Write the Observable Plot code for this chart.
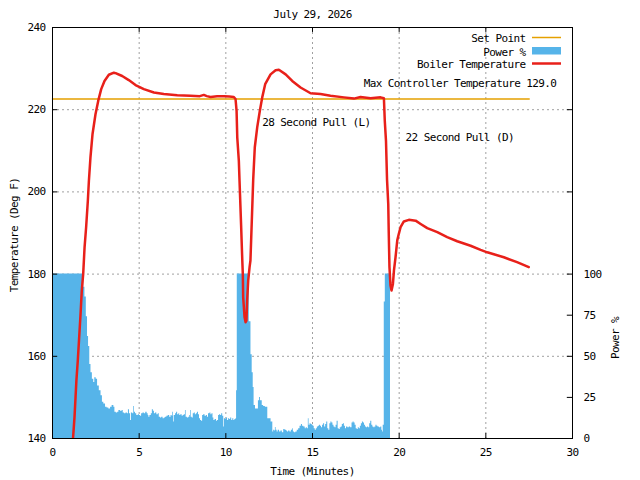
<!DOCTYPE html>
<html><head><meta charset="utf-8">
<script src="https://cdn.jsdelivr.net/npm/d3@7"></script>
<script src="https://cdn.jsdelivr.net/npm/@observablehq/plot@0.6"></script>
<style>
body{margin:0;background:#fff}
svg text{letter-spacing:-0.6px}
</style>
</head><body><div id="chart"></div>
<script>
// ---- data ----
const titleText = "July 29, 2026";
const xLabel = "Time (Minutes)";
const yLabel = "Temperature (Deg F)";
const y2Label = "Power %";
const legendLabels = ["Set Point", "Power %", "Boiler Temperature"];
const notes = ["Max Controller Temperature 129.0", "28 Second Pull (L)", "22 Second Pull (D)"];
const noteX = [17.95, 12.1, 20.37];
const noteY = [226.3, 216.8, 213.2];

const xTicks = [0, 5, 10, 15, 20, 25, 30];
const yTicks = [140, 160, 180, 200, 220, 240];
const powerTicks = [0, 25, 50, 75, 100];
const xGrid = [5, 10, 15, 20, 25];
const yGrid = [160, 180, 200, 220];

const tempTime = [1.17,1.19,1.27,1.33,1.38,1.46,1.54,1.62,1.69,1.77,1.85,1.94,2.04,2.10,2.19,2.31,2.48,2.64,2.81,3.00,3.25,3.54,3.64,4.02,4.40,4.79,5.27,5.85,6.42,7.20,7.96,8.50,8.73,8.90,9.12,9.50,9.89,10.20,10.46,10.56,10.62,10.66,10.75,10.79,10.88,10.95,10.98,11.00,11.08,11.14,11.19,11.23,11.29,11.37,11.42,11.58,11.67,11.81,11.96,12.10,12.27,12.58,12.87,13.06,13.45,13.83,14.31,14.89,15.46,16.04,16.81,17.39,17.77,18.35,18.93,19.12,19.17,19.24,19.30,19.37,19.40,19.44,19.50,19.56,19.64,19.70,19.79,19.89,19.98,20.08,20.27,20.56,20.95,21.24,21.62,22.20,22.77,23.35,24.12,24.70,25.08,26.04,26.80,27.48];
const tempValue = [139.5,140.4,145.2,150.1,154.2,159,164.7,170.4,176,180,186.5,191.4,197.9,202.7,208.4,214.1,218.9,222.2,225,227,228.5,229,228.9,228.2,227.2,226.0,225.0,224.2,223.8,223.5,223.4,223.3,223.6,223.3,223.1,223.3,223.3,223.2,223.1,222.6,219.7,213.2,207.6,202.7,192,183.3,180,174.4,169.5,168.3,168.7,173.6,178.4,181.7,183.3,203.1,210.8,215.7,219.7,223,226.2,228.6,229.6,229.7,228.6,227,225.4,224,223.8,223.4,223,222.7,223.1,222.8,223,222.8,217.3,212.4,203,197.1,189.8,181.7,177.2,176,177.6,180.9,184.1,188.2,189.8,191.4,192.8,193.2,193,192.2,191.2,190.2,189,188,186.9,185.9,185.3,184.1,182.9,181.7];

const setPointTime = [0, 27.5];
const setPointValue = [222.6, 222.6];

const powerTime = [0,1.80,1.87,1.95,2.02,2.08,2.15,2.22,2.30,2.38,2.44,2.52,2.60,2.70,2.80,2.88,2.96,3.06,3.15,3.25,3.35,3.44,3.54,3.60,3.68,3.76,3.83,3.92,4.02,4.08,4.16,4.24,4.32,4.38,4.44,4.50,4.55,4.63,4.69,4.73,4.79,4.86,4.95,5.02,5.08,5.14,5.22,5.30,5.38,5.46,5.52,5.56,5.62,5.70,5.76,5.82,5.88,5.94,6.02,6.10,6.16,6.23,6.30,6.38,6.45,6.52,6.60,6.68,6.76,6.84,6.90,6.94,6.98,7.02,7.10,7.16,7.22,7.29,7.34,7.40,7.48,7.54,7.60,7.67,7.71,7.78,7.86,7.92,7.96,8.00,8.06,8.12,8.18,8.24,8.30,8.36,8.42,8.48,8.54,8.60,8.66,8.72,8.80,8.88,8.94,9.00,9.08,9.14,9.20,9.26,9.31,9.38,9.46,9.52,9.58,9.64,9.70,9.76,9.82,9.88,9.92,9.98,10.04,10.10,10.16,10.22,10.28,10.34,10.40,10.46,10.52,10.58,10.62,10.66,11.35,11.45,11.52,11.58,11.63,11.71,11.80,11.88,11.95,12.00,12.10,12.18,12.28,12.42,12.61,12.71,12.76,12.82,12.86,12.90,12.96,13.02,13.10,13.18,13.26,13.34,13.42,13.50,13.56,13.62,13.70,13.78,13.86,13.90,13.96,14.04,14.12,14.20,14.28,14.36,14.42,14.50,14.58,14.64,14.70,14.76,14.80,14.86,14.92,14.98,15.04,15.10,15.16,15.22,15.28,15.34,15.40,15.46,15.52,15.58,15.64,15.70,15.76,15.82,15.88,15.94,16.00,16.06,16.12,16.18,16.24,16.30,16.36,16.42,16.48,16.54,16.60,16.66,16.72,16.78,16.84,16.90,16.96,17.04,17.12,17.20,17.28,17.34,17.40,17.46,17.52,17.58,17.64,17.70,17.76,17.82,17.88,17.94,18.00,18.06,18.12,18.18,18.24,18.30,18.36,18.42,18.48,18.54,18.60,18.66,18.72,18.78,18.86,18.94,19.00,19.04,19.08,19.14,19.20,19.50];
const powerValue = [100,92,86,74,62,56,45,40,36,34,37,36,32,29,26,22,21,19,18.5,18,19,20,19,16,15.5,16,17,16.5,17,15.5,15,15.5,15,17.5,15,11,15.5,15,19.5,16,15,14,14.5,14,13.5,15,15.5,15,16,15,14,13,14,15,17.5,16.5,15,15.5,14.5,15,13,12.5,13,12,12.5,13,13.5,14,13,14,13.5,16,10,14,15,16,14.5,15,14,14.5,13.5,14,14.5,17,13,12.5,13,14,17,13,12.5,15,15.5,14.5,15,16,14.5,12,11,10.5,14,14.5,13.5,14,13,15,15.5,14.5,15,12.5,11,11.5,10.5,11,14,14.5,14,15,13.5,7,12,11.5,12.5,11,12,11.5,12.5,11,12,11,11.5,12,29,100,71,51,40,31,20,18,18,23,25,23,20,19.5,19,12,10,4,5,4.5,6.7,5,4,5,4,4.5,3.5,5.5,5,4.5,4,4.5,4,5,6,4,3.5,4,5,6,7.5,8.5,7.5,7,6,6.5,6,12,8,9,8.5,8,7.5,6,5,6,7,7.5,8,7.5,6.5,8,9,7,8.5,10,6,5,9,10,9.5,8,7,6.5,8,10.5,6,5.5,6.5,7,8.5,9,7.5,6,7,6.5,7,6.5,9.5,10,9.5,8,6,5.5,6.5,6,7.5,9,10,9.5,8,7,6.5,7,6.5,9,10.5,8,7,6.5,7,8,7.5,7,6.5,7,5,4,8,83,100,0];

// ---- tables ----
const temp = tempTime.map((t, i) => ({t, v: tempValue[i]}));
const power = powerTime.map((t, i) => ({t, p: powerValue[i]}));
const setPoint = setPointTime.map((t, i) => ({t, v: setPointValue[i]}));
const powerToTemp = p => 140 + p * 0.4; // right axis: 0..100 % <-> 140..180 °F
const notesData = notes.map((s, i) => ({s, x: noteX[i], y: noteY[i]}));
const legendData = legendLabels.map((s, i) => ({s, i}));

const C_SET = "#e5a000", C_POW = "#56b4e9", C_TEMP = "#e8201a", C_GRID = "#a0a0a0";
const dash = "2,3";
const legendDy = [11, 24.5, 37];

const plot = Plot.plot({
  width: 640, height: 480,
  marginLeft: 52, marginRight: 68, marginTop: 27, marginBottom: 42,
  style: {fontFamily: "DejaVu Sans Mono", fontSize: "11px", background: "white", color: "black", overflow: "visible"},
  x: {domain: [0, 30]},
  y: {domain: [140, 240]},
  marks: [
    Plot.gridX(xGrid, {stroke: C_GRID, strokeOpacity: 1, strokeDasharray: dash}),
    Plot.gridY(yGrid, {stroke: C_GRID, strokeOpacity: 1, strokeDasharray: dash}),
    Plot.areaY(power, {x: "t", y1: 140, y2: d => powerToTemp(d.p), curve: "step-after", fill: C_POW}),
    Plot.line(setPoint, {x: "t", y: "v", stroke: C_SET, strokeWidth: 1.5}),
    Plot.line(temp, {x: "t", y: "v", stroke: C_TEMP, strokeWidth: 2.5, clip: true}),
    Plot.frame({stroke: "black", strokeWidth: 1}),
    // inward ticks
    Plot.ruleY(yTicks, {y: d => d, x1: 0, x2: 0.3, stroke: "black"}),
    Plot.ruleY(yTicks.filter(v => v > 180), {y: d => d, x1: 29.7, x2: 30, stroke: "black"}),
    Plot.ruleY(powerTicks.map(powerToTemp), {y: d => d, x1: 29.7, x2: 30, stroke: "black"}),
    Plot.ruleX(xTicks, {x: d => d, y1: 140, y2: 141.2, stroke: "black"}),
    Plot.ruleX(xTicks, {x: d => d, y1: 238.8, y2: 240, stroke: "black"}),
    // tick labels
    Plot.axisX(xTicks, {tickSize: 0, tickPadding: 10, label: null}),
    Plot.axisY(yTicks, {tickSize: 0, tickPadding: 7, label: null}),
    Plot.axisY(powerTicks.map(powerToTemp), {anchor: "right", tickSize: 0, tickPadding: 11, label: null,
      tickFormat: v => String(Math.round((v - 140) * 2.5))}),
    // titles
    Plot.text([titleText], {frameAnchor: "top", lineAnchor: "middle", dy: -13, text: d => d}),
    Plot.text([xLabel], {frameAnchor: "bottom", lineAnchor: "middle", dy: 33, text: d => d}),
    Plot.text([yLabel], {frameAnchor: "left", textAnchor: "middle", lineAnchor: "middle", dx: -38, dy: 2, rotate: -90, text: d => d}),
    Plot.text([y2Label], {frameAnchor: "right", textAnchor: "middle", lineAnchor: "middle", dx: 43, dy: 105, rotate: -90, text: d => d}),
    // annotations
    Plot.text(notesData, {x: "x", y: "y", text: "s", textAnchor: "start"}),
    // legend labels
    ...legendData.map(d => Plot.text([d], {frameAnchor: "top-right", textAnchor: "end", lineAnchor: "middle",
      dx: -47, dy: legendDy[d.i], text: "s"}))
  ]
});

// legend swatches
const svg = d3.select(plot);
const lx1 = 532, lx2 = 561;
svg.append("line").attr("x1", lx1).attr("x2", lx2).attr("y1", 37.5).attr("y2", 37.5).attr("stroke", C_SET).attr("stroke-width", 1.5);
svg.append("rect").attr("x", lx1).attr("y", 47).attr("width", lx2 - lx1).attr("height", 7.5).attr("fill", C_POW);
svg.append("line").attr("x1", lx1).attr("x2", lx2).attr("y1", 63.5).attr("y2", 63.5).attr("stroke", C_TEMP).attr("stroke-width", 2.5);

document.getElementById("chart").appendChild(plot);
</script>
</body></html>
